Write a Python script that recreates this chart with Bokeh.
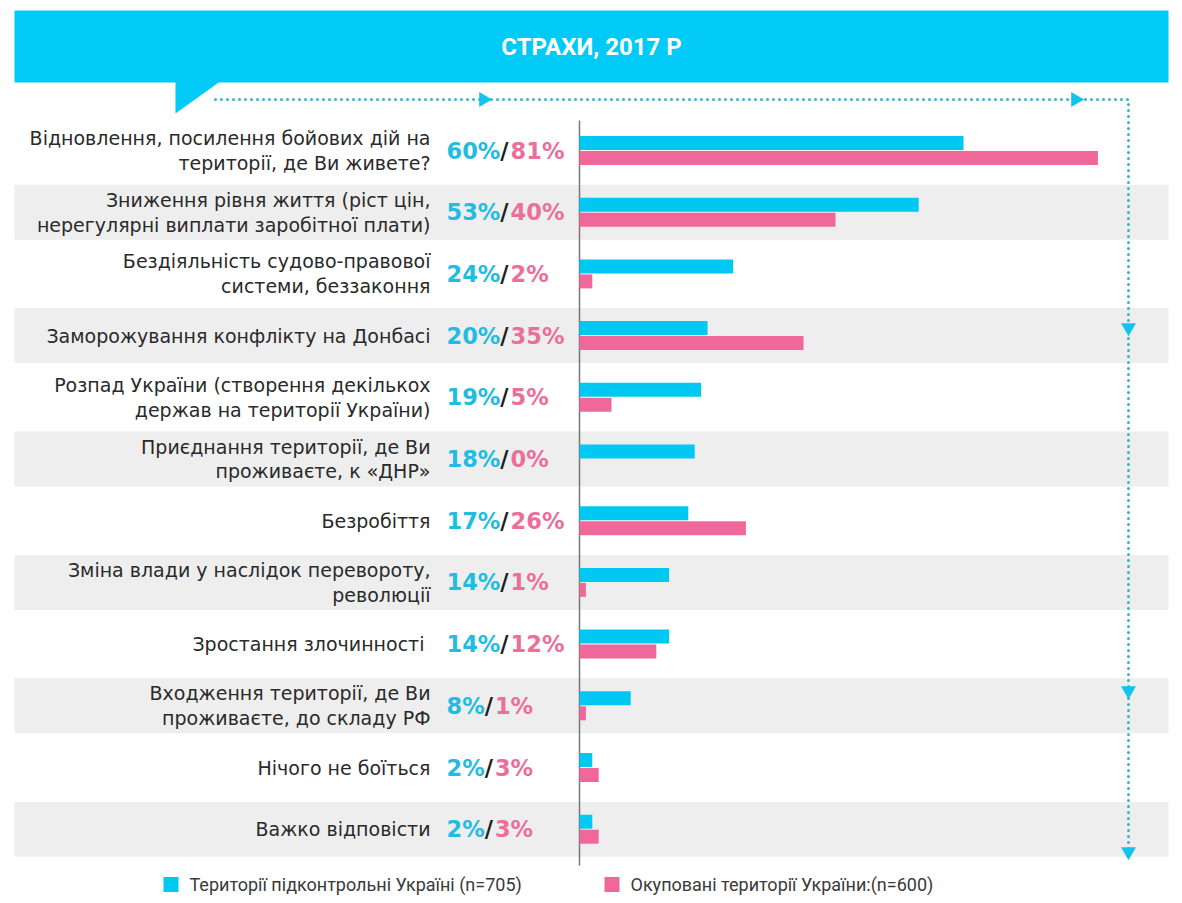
from bokeh.plotting import figure
from bokeh.models import Range1d, ColumnDataSource
from bokeh.core.properties import value
from bokeh.embed import file_html
from bokeh.resources import INLINE

# ---------------- data ----------------
title = "СТРАХИ, 2017 Р"
categories = [
    "Відновлення, посилення бойових дій на\nтериторії, де Ви живете?",
    "Зниження рівня життя (ріст цін,\nнерегулярні виплати заробітної плати)",
    "Бездіяльність судово-правової\nсистеми, беззаконня",
    "Заморожування конфлікту на Донбасі",
    "Розпад України (створення декількох\nдержав на території України)",
    "Приєднання території, де Ви\nпроживаєте, к «ДНР»",
    "Безробіття",
    "Зміна влади у наслідок перевороту,\nреволюції",
    "Зростання  злочинності",
    "Входження території, де Ви\nпроживаєте, до складу РФ",
    "Нічого не боїться",
    "Важко відповісти",
]
controlled = [60, 53, 24, 20, 19, 18, 17, 14, 14, 8, 2, 2]
occupied = [81, 40, 2, 35, 5, 0, 26, 1, 12, 1, 3, 3]
series_names = ["Території підконтрольні Україні (n=705)",
                "Окуповані території України:(n=600)"]

# ---------------- layout helpers ----------------
W, H = 1174, 895
OX, OY = 0, 0            # observed page offset
ZERO_PX = 579            # screen x of 0 %
PX_PER = 6.4             # px per percent
ROW0 = 150               # screen y of first row centre
PITCH = 61.7             # px per row


def dx(px):
    return (px - ZERO_PX) / PX_PER


def dy(py):
    return (py - ROW0) / PITCH


CYAN = "#00C8F2"
PINK = "#F0679A"
CYAN_T = "#22BCE2"
PINK_T = "#EC6E9B"
DOT = "#3AB3CB"

p = figure(width=W, height=H, output_backend="svg", toolbar_location=None,
           x_range=Range1d(dx(OX), dx(OX + W)),
           y_range=Range1d(dy(OY + H), dy(OY)),
           min_border=0, outline_line_color=None)
p.axis.visible = False
p.grid.visible = False
p.background_fill_color = "white"
p.border_fill_color = "white"

n = len(categories)
idx = list(range(n))

# alternating bands
band_rows = [i for i in idx if i % 2 == 1]
bh = 55 / PITCH
p.quad(left=dx(14), right=dx(1168),
       top=[i - bh / 2 for i in band_rows], bottom=[i + bh / 2 for i in band_rows],
       fill_color="#EEEEEE", line_color=None)

# banner
p.quad(left=dx(14), right=dx(1168), top=dy(10), bottom=dy(82),
       fill_color="#00CAF5", line_color=None)
p.patch(x=[dx(175), dx(175), dx(221)], y=[dy(80), dy(113), dy(80)],
        fill_color="#00CAF5", line_color=None)
p.text(x=[dx(591)], y=[dy(46)], text=[title], text_color="white",
       text_font=value("Roboto"), text_font_style="bold", text_font_size="24px",
       text_align="center", text_baseline="middle")

# dotted guide
p.line(x=[dx(215), dx(1128), dx(1128)], y=[dy(99), dy(99), dy(850)],
       line_color=DOT, line_width=3, line_dash="0 6", line_cap="round")
p.scatter(x=[dx(483), dx(1075)], y=[dy(99), dy(99)], marker="triangle",
          size=15, angle=-1.5708, fill_color="#12C3EE", line_color=None)
p.scatter(x=[dx(1128)] * 3, y=[dy(327), dy(690), dy(851)], marker="triangle",
          size=15, angle=3.14159, fill_color="#12C3EE", line_color=None)

# axis line
p.segment(x0=[0], y0=[dy(120)], x1=[0], y1=[dy(865)], line_color="#777777",
          line_width=1.5)

# bars
bar_h = 14 / PITCH
off = 7.5 / PITCH
p.hbar(y=[i - off for i in idx], left=0, right=controlled, height=bar_h,
       fill_color=CYAN, line_color=None)
p.hbar(y=[i + off for i in idx], left=0, right=occupied, height=bar_h,
       fill_color=PINK, line_color=None)

# category labels
p.text(x=[dx(430)] * n, y=idx, text=categories, text_color="#2A2A2A",
       text_font=value("DejaVu Sans"), text_font_size="19px",
       text_align="right", text_baseline="middle", text_line_height=1.13)

# percentage labels (cyan / black slash / pink)
FS = 22.5


def width_of(s):
    w = 0.0
    for ch in s:
        if ch.isdigit():
            w += 0.696 * FS
        elif ch == "%":
            w += 1.002 * FS
    return w


c_txt = [f"{v}%" for v in controlled]
o_txt = [f"{v}%" for v in occupied]
c_w = [width_of(s) for s in c_txt]
src = ColumnDataSource(dict(
    x=[dx(446)] * n, y=idx, c=c_txt, o=o_txt,
    slash=["/"] * n,
    s_off=c_w, o_off=[w + 0.365 * FS + 2 for w in c_w],
))
common = dict(text_font=value("DejaVu Sans"), text_font_style="bold",
              text_font_size=f"{FS}px", text_align="left",
              text_baseline="middle")
p.text(x="x", y="y", text="c", source=src, text_color=CYAN_T, **common)
p.text(x="x", y="y", text="slash", x_offset="s_off", source=src,
       text_color="#1E1E1E", **common)
p.text(x="x", y="y", text="o", x_offset="o_off", source=src,
       text_color=PINK_T, **common)

# legend
p.scatter(x=[dx(170.5), dx(611.5)], y=[dy(884), dy(884)], marker="square",
          size=15, fill_color=[CYAN, PINK], line_color=None)
p.text(x=[dx(189), dx(630)], y=[dy(884), dy(884)], text=series_names,
       text_color="#3A3A3A", text_font=value("Roboto"), text_font_size="18px",
       text_align="left", text_baseline="middle")

open("out.html", "w").write(file_html(p, INLINE))
